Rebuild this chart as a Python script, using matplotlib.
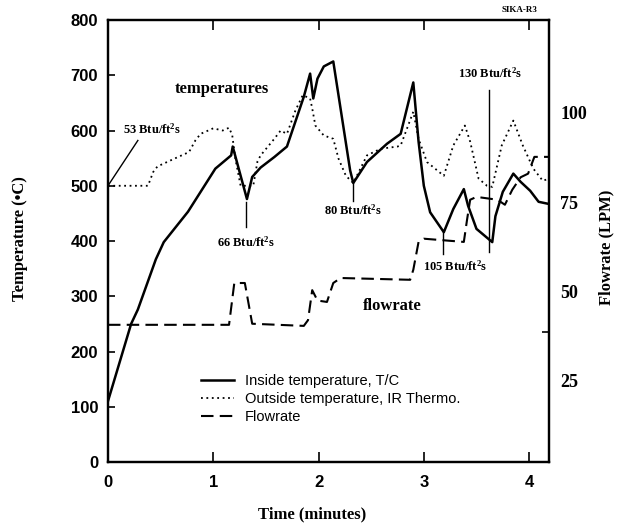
import matplotlib
matplotlib.use("Agg")
import matplotlib.pyplot as plt

##Data
# inside temperature (thermocouple), minutes / deg C
t_inside = [0, 0.22, 0.284, 0.455, 0.53, 0.76, 0.88, 1.02, 1.17, 1.185, 1.32, 1.37, 1.45, 1.58,
            1.70, 1.78, 1.86, 1.92, 1.95, 1.99, 2.05, 2.14, 2.30, 2.33, 2.46, 2.65, 2.78, 2.90,
            2.95, 3.0, 3.06, 3.19, 3.28, 3.38, 3.42, 3.5, 3.65, 3.68, 3.75, 3.85, 3.92, 4.01,
            4.09, 4.19]
temp_inside = [110, 250, 276, 367, 398, 453, 489, 531, 555, 571, 476, 516, 533, 552,
               571, 616, 661, 703, 658, 694, 716, 725, 528, 505, 543, 576, 594, 687,
               580, 500, 452, 416, 458, 494, 464, 422, 398, 445, 489, 522, 507, 491,
               471, 467]

# outside temperature (IR thermometer)
t_outside = [0, 0.38, 0.43, 0.47, 0.63, 0.77, 0.83, 0.88, 1.0, 1.09, 1.15, 1.18, 1.21, 1.26,
             1.38, 1.42, 1.45, 1.58, 1.64, 1.70, 1.78, 1.85, 1.92, 1.94, 1.97, 2.05, 2.14,
             2.19, 2.26, 2.33, 2.46, 2.59, 2.75, 2.78, 2.90, 2.95, 3.03, 3.19, 3.28, 3.39,
             3.44, 3.52, 3.6, 3.65, 3.74, 3.85, 3.94, 4.04, 4.13, 4.19]
temp_outside = [500, 500, 525, 535, 549, 561, 582, 594, 604, 600, 605, 592, 549, 500,
                500, 544, 555, 585, 600, 594, 636, 664, 658, 640, 609, 591, 585,
                549, 518, 505, 555, 567, 571, 573, 634, 585, 543, 518, 573, 609,
                580, 513, 500, 498, 573, 618, 573, 531, 509, 513]

# flowrate, LPM
t_flow = [0, 1.15, 1.2, 1.3, 1.37, 1.86, 1.9, 1.94, 1.99, 2.08, 2.14, 2.21, 2.87, 2.9,
          2.95, 3.0, 3.38, 3.41, 3.44, 3.5, 3.7, 3.77, 3.84, 3.92, 3.99, 4.05, 4.19]
flowrate = [40.7, 40.7, 52.4, 52.4, 41.0, 40.4, 42, 50.4, 47.5, 47.1, 52.4, 53.8, 53.3, 56.1,
            63.9, 64.8, 63.9, 70, 75.7, 76.5, 75.7, 74.3, 78.5, 82, 83, 87.7, 87.7]

temp_ticks = [0, 100, 200, 300, 400, 500, 600, 700, 800]
time_ticks = [0, 1, 2, 3, 4]
flow_ticks = [25, 50, 75, 100]

serif = "Liberation Serif"
sans = "Liberation Sans"

plt.rcParams["mathtext.fontset"] = "custom"
plt.rcParams["mathtext.rm"] = "Liberation Serif:bold"
plt.rcParams["mathtext.bf"] = "Liberation Serif:bold"
plt.rcParams["mathtext.it"] = "Liberation Serif:bold"

fig = plt.figure(figsize=(6.24, 5.27), dpi=100)
ax = fig.add_axes([0.173, 0.1233, 0.707, 0.8387])
ax2 = ax.twinx()

l1, = ax.plot(t_inside, temp_inside, color="black", lw=1.8, label="Inside temperature, T/C")
l2, = ax.plot(t_outside, temp_outside, color="black", lw=1.3, linestyle=(0, (1, 2)),
              label="Outside temperature, IR Thermo.")
l3, = ax2.plot(t_flow, flowrate, color="black", lw=1.5, linestyle=(0, (6, 3)), label="Flowrate")

ax.set_xlim(0, 4.19)
ax.set_ylim(0, 800)
ax2.set_ylim(2.3, 126)

ax.set_xticks(time_ticks)
ax.set_yticks(temp_ticks)
ax.tick_params(axis="both", direction="in", length=5, width=1.2, top=True,
               labelsize=12)
ax.tick_params(axis="x", pad=9, length=7)
ax.tick_params(axis="y", pad=7)
for lab in ax.get_xticklabels() + ax.get_yticklabels():
    lab.set_fontfamily(sans)
    lab.set_fontweight("bold")

ax2.set_yticks(flow_ticks)
ax2.set_yticks([38.7], minor=True)
ax2.tick_params(axis="y", which="major", length=0, pad=8, labelsize=13)
ax2.tick_params(axis="y", which="minor", direction="in", length=5, width=1.2)
for lab in ax2.get_yticklabels():
    lab.set_fontfamily(serif)
    lab.set_fontweight("bold")

for a in (ax, ax2):
    for s in a.spines.values():
        s.set_linewidth(1.6)

##Labels
fig.text(0.5, 0.023, "Time (minutes)", ha="center", va="center",
         fontsize=12, fontweight="bold", family=serif)
fig.text(0.032, 0.548, "Temperature (\u2022C)", ha="center", va="center", rotation=90,
         fontsize=12, fontweight="bold", family=serif)
fig.text(0.971, 0.531, "Flowrate (LPM)", ha="center", va="center", rotation=90,
         fontsize=12, fontweight="bold", family=serif)
fig.text(0.833, 0.981, "SIKA-R3", ha="center", va="center",
         fontsize=6.5, fontweight="bold", family=serif)

##Annotations
ax.text(0.63, 676, "temperatures", ha="left", va="center", fontsize=12,
        fontweight="bold", family=serif)
ax.text(2.42, 282, "flowrate", ha="left", va="center", fontsize=12,
        fontweight="bold", family=serif)

ann = dict(fontsize=9, fontweight="bold", family=serif)
flux = "Btu/ft$^2$s"
ax.plot([0, 0.284], [500, 582], color="black", lw=1.0)
ax.text(0.14, 602, "53 " + flux, ha="left", va="center", **ann)
ax.plot([1.31, 1.31], [470, 425], color="black", lw=1.0)
ax.text(1.31, 398, "66 " + flux, ha="center", va="center", **ann)
ax.plot([2.33, 2.33], [505, 473], color="black", lw=1.0)
ax.text(2.33, 455, "80 " + flux, ha="center", va="center", **ann)
ax.plot([3.18, 3.18], [416, 376], color="black", lw=1.0)
ax.text(2.99, 355, "105 " + flux, ha="left", va="center", **ann)
ax.plot([3.62, 3.62], [673, 380], color="black", lw=1.0)
ax.text(3.63, 704, "130 " + flux, ha="center", va="center", **ann)

##Legend
leg = ax2.legend(handles=[l1, l2, l3], loc="upper left", bbox_to_anchor=(0.212, 0.2),
                 frameon=False, borderpad=0, borderaxespad=0, handlelength=2.2,
                 handletextpad=0.8, labelspacing=0.3,
                 prop={"family": sans, "size": 10.5})

fig.savefig("out.png", dpi=100)
